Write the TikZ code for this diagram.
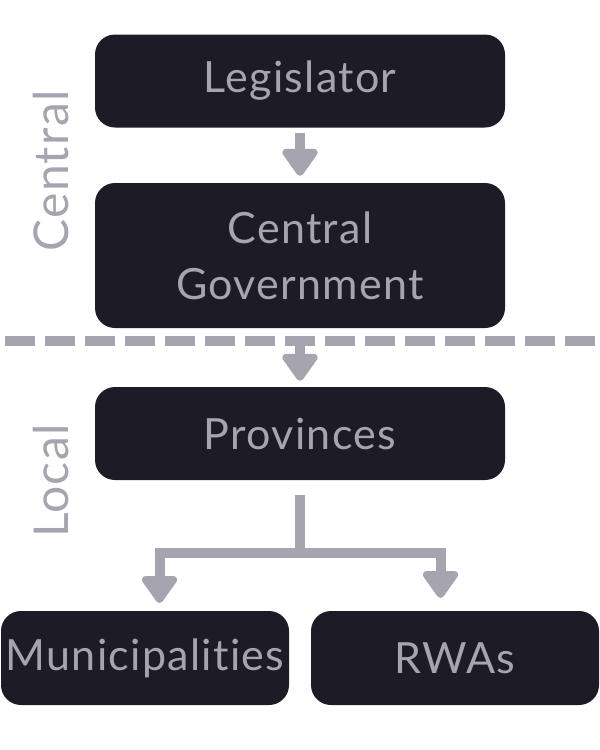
\documentclass[tikz,border=0pt]{standalone}
\usepackage{fontspec}
\setmainfont{Lato}[Ligatures={NoCommon,NoContextual}, LetterSpace=3]
\usetikzlibrary{arrows.meta}
\definecolor{boxfill}{HTML}{1C1B26}
\definecolor{linegray}{HTML}{A6A5AF}

\begin{document}
\begin{tikzpicture}[x=1pt,y=-1pt]
	\tikzset{level/.style=
		{fill=boxfill, text=linegray, rounded corners=20pt, inner sep=0pt,
			align=center, font=\fontsize{43}{56}\selectfont},
		wide/.style={level, minimum width=410pt},
		half/.style={level, minimum width=288pt, minimum height=94pt},
		flow/.style={draw=linegray, line width=10pt,
			-{Triangle[width=40pt,length=30pt,round]}},
		tier/.style={text=linegray, rotate=90, font=\fontsize{48}{56}\selectfont}}
	\useasboundingbox (0,0) rectangle (600,750);
	\node[wide, minimum height=93pt] (leg) at (300,81) {Legislator};
	\node[wide, minimum height=145pt] (cgov) at (300,255.5) {Central\\Government};
	\node[wide, minimum height=93pt] (prov) at (300,433.5) {Provinces};
	\node[half] (muni) at (145,658) {Municipalities};
	\node[half] (rwa) at (455,658) {RWAs};
	\node[tier] (central) at (51,171) {Central};
	\node[tier] (local) at (51,481) {Local};
	\coordinate (cutL) at (5,341);
	\coordinate (cutR) at (595,341);
	\coordinate (cut) at (300,341);
	\coordinate (fork) at (300,553);
	\coordinate (muniin) at (159.5,611);
	\coordinate (rwain) at (440.5,606);
	\draw[linegray, line width=10pt, dash pattern=on 30pt off 10pt] (cutL) -- (cutR);
	\draw[flow, shorten <=5pt, shorten >=7pt] (leg) -- (cgov);
	\draw[flow, shorten <=5pt, shorten >=6pt] (cut) -- (prov);
	\draw[flow, shorten <=15pt, shorten >=8pt] (prov.south) -- (fork) -| (muniin);
	\draw[flow, shorten >=8pt] (fork) -| (rwain);
\end{tikzpicture}
\end{document}
